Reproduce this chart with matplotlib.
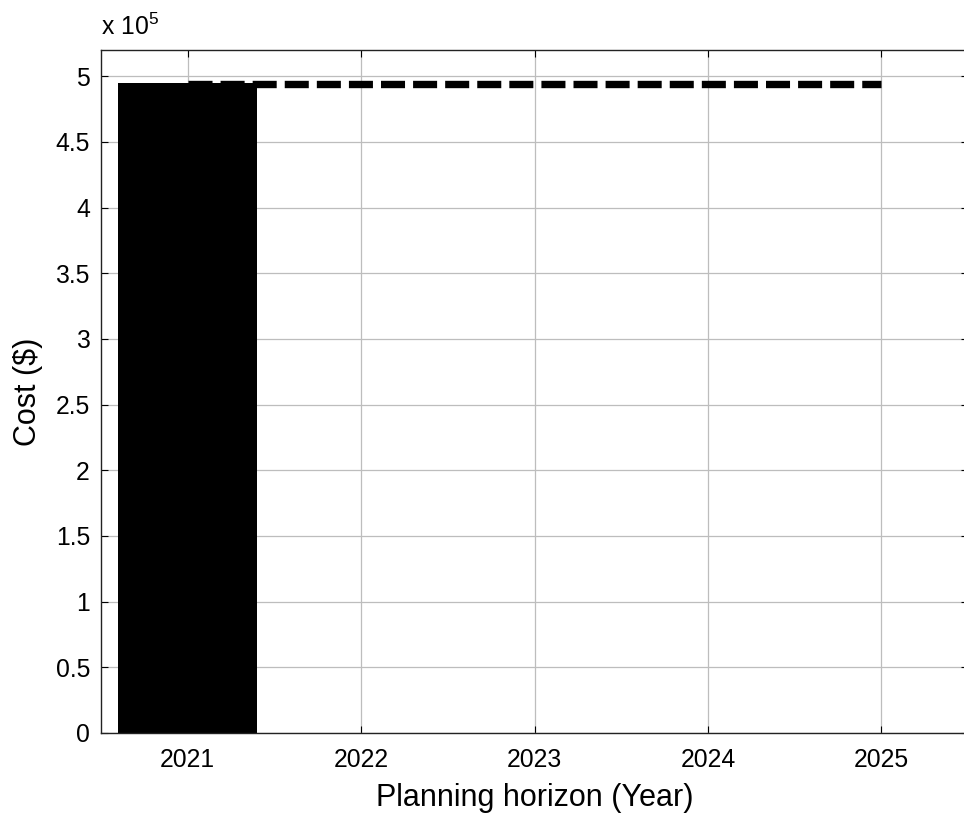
import matplotlib
matplotlib.use("Agg")
import matplotlib.pyplot as plt

plt.rcParams['font.family'] = ['Liberation Sans', 'DejaVu Sans']
plt.rcParams['mathtext.fontset'] = 'custom'
plt.rcParams['mathtext.rm'] = 'Liberation Sans'
plt.rcParams['mathtext.default'] = 'regular'

# Annual cost per planning year and the cumulative cost level
years = [2021, 2022, 2023, 2024, 2025]
annual_cost = [494500, 0, 0, 0, 0]
total_cost = [494000, 494000, 494000, 494000, 494000]
y_ticks = [0, 0.5, 1, 1.5, 2, 2.5, 3, 3.5, 4, 4.5, 5]
y_tick_labels = ['0', '0.5', '1', '1.5', '2', '2.5', '3', '3.5', '4', '4.5', '5']

DPI = 100
fig = plt.figure(figsize=(9.64, 8.18), dpi=DPI)
ax = fig.add_axes([101 / 964, 1 - 733 / 818, 867 / 964, 683 / 818])

scale = 1e5
ax.bar(years, [v / scale for v in annual_cost], width=0.8,
       color='black', edgecolor='black', linewidth=0, zorder=2)

lw = 5.3
ax.plot(years, [v / scale for v in total_cost], color='black', linewidth=lw,
        linestyle=(0, (17.3 / lw, 5.8 / lw)), solid_capstyle='butt',
        dash_capstyle='butt', zorder=3)

ax.set_xlim(2020.5, 2025.5)
ax.set_ylim(0, 5.2)
ax.set_xticks(years)
ax.set_xticklabels([str(y) for y in years])
ax.set_yticks(y_ticks)
ax.set_yticklabels(y_tick_labels)

ax.grid(True, color='#bdbdbd', linewidth=0.9, linestyle='-', zorder=0)
ax.set_axisbelow(True)

ax.tick_params(direction='in', length=5, width=0.8, colors='black',
               labelsize=17.8, top=True, right=True)
ax.tick_params(axis='x', pad=11)
ax.tick_params(axis='y', pad=8)
for s in ax.spines.values():
    s.set_linewidth(1.0)
    s.set_color('#222222')
    s.set_zorder(4)
ax.spines['right'].set_visible(False)

ax.set_xlabel('Planning horizon (Year)', fontsize=22, labelpad=8)
ax.set_ylabel('Cost ($)', fontsize=22, labelpad=9)

# exponent marker above the y axis
ax.text(0.0, 1.0 + 10 / 683, r'x 10$^{5}$', transform=ax.transAxes,
        fontsize=17.8, ha='left', va='bottom')

fig.savefig('out.png', dpi=DPI)
